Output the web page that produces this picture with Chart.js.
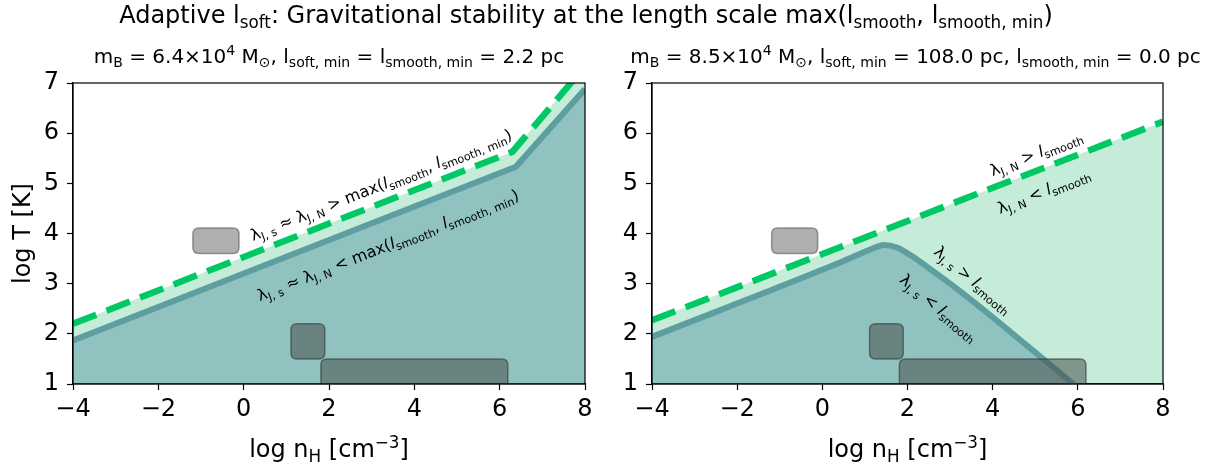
<!DOCTYPE html>
<html>
<head>
<meta charset="utf-8">
<script src="https://cdn.jsdelivr.net/npm/chart.js@4.4.1/dist/chart.umd.min.js"></script>
<style>
  body { margin: 0; background: #fff; }
  #wrap { position: relative; width: 1211px; height: 469px; }
  canvas { position: absolute; top: 0; }
</style>
</head>
<body>
<div id="wrap">
  <canvas id="left" width="605" height="469" style="left:0"></canvas>
  <canvas id="right" width="605" height="469" style="left:606px"></canvas>
  <canvas id="head" width="1211" height="40" style="left:0"></canvas>
</div>
<script>
// --- data (log n_H, log T) ---
const xTicks = [-4, -2, 0, 2, 4, 6, 8];
const yTicks = [1, 2, 3, 4, 5, 6, 7];

// left panel: l_soft,min = l_smooth,min = 2.2 pc
const leftDashX = [-4, 6.3, 8];
const leftDashY = [2.2, 5.63, 7.33];
const leftTealX = [-4, 6.38, 8];
const leftTealY = [1.87, 5.33, 6.88];

// right panel: l_soft,min = 108 pc
const rightDashX = [-4, 8];
const rightDashY = [2.27, 6.23];
const rightTealX = [-4, 0.5, 1.1, 1.45, 1.75, 2.1, 2.6, 3.2, 4.0, 4.8, 5.5, 6.0];
const rightTealY = [1.94, 3.45, 3.67, 3.77, 3.72, 3.55, 3.25, 2.87, 2.33, 1.77, 1.28, 0.92];

// grey boxes (same in both panels)
const boxKind = ['light', 'dark', 'dark'];
const boxX0 = [-1.19, 1.11, 1.81];
const boxX1 = [-0.11, 1.9, 6.19];
const boxY0 = [3.6, 1.5, 0.8];
const boxY1 = [4.11, 2.2, 1.5];

const FONT = '"DejaVu Sans"';

// rich text: segments [text, kind] kind: '' normal, 'b' subscript, 'p' superscript, 'i' italic
function layoutRich(ctx, segs, size) {
    let x = 0;
    const out = [];
    for (const [t, k] of segs) {
        let s = size, dy = 0;
        if (k.includes('b')) { s = size * 0.7; dy = size * 0.2; }
        if (k.includes('p')) { s = size * 0.7; dy = -size * 0.38; }
        const f = (k.includes('i') ? 'italic ' : '') + s.toFixed(1) + 'px ' + FONT;
        ctx.font = f;
        out.push({ t, f, x, dy });
        x += ctx.measureText(t).width;
    }
    return { out, w: x };
}

function drawRich(ctx, segs, cx, cy, size, rot, vOff) {
    ctx.save();
    ctx.translate(cx, cy);
    if (rot) ctx.rotate(rot * Math.PI / 180);
    const L = layoutRich(ctx, segs, size);
    ctx.textAlign = 'left';
    ctx.textBaseline = 'alphabetic';
    ctx.fillStyle = '#000';
    for (const o of L.out) {
        ctx.font = o.f;
        ctx.fillText(o.t, o.x - L.w / 2, o.dy + (vOff || 0));
    }
    ctx.restore();
}

function roundBox(ctx, x0, y0, x1, y1, r) {
    ctx.beginPath();
    ctx.moveTo(x0 + r, y0);
    ctx.lineTo(x1 - r, y0);
    ctx.quadraticCurveTo(x1, y0, x1, y0 + r);
    ctx.lineTo(x1, y1 - r);
    ctx.quadraticCurveTo(x1, y1, x1 - r, y1);
    ctx.lineTo(x0 + r, y1);
    ctx.quadraticCurveTo(x0, y1, x0, y1 - r);
    ctx.lineTo(x0, y0 + r);
    ctx.quadraticCurveTo(x0, y0, x0 + r, y0);
    ctx.closePath();
}

const pts = (xs, ys) => xs.map((x, i) => ({ x: x, y: ys[i] }));
const minus = v => String(v).replace('-', '\u2212');

function makeChart(id, cfg) {
    const decor = {
        id: 'decor' + id,
        afterDatasetsDraw(chart) {
            const ctx = chart.ctx, a = chart.chartArea;
            const sx = chart.scales.x, sy = chart.scales.y;
            ctx.save();
            ctx.beginPath();
            ctx.rect(a.left, a.top, a.right - a.left, a.bottom - a.top);
            ctx.clip();
            // boxes
            boxKind.forEach((k, i) => {
                const x0 = sx.getPixelForValue(boxX0[i]), x1 = sx.getPixelForValue(boxX1[i]);
                const y0 = sy.getPixelForValue(boxY1[i]), y1 = sy.getPixelForValue(boxY0[i]);
                roundBox(ctx, x0, y0, x1, y1, 6);
                ctx.fillStyle = k === 'light' ? 'rgba(110,110,110,0.55)' : 'rgba(72,78,78,0.55)';
                ctx.fill();
                ctx.lineWidth = 1.5;
                ctx.strokeStyle = k === 'light' ? 'rgba(90,90,90,0.6)' : 'rgba(50,55,55,0.6)';
                ctx.stroke();
            });
            // annotations
            cfg.annots.forEach(an => {
                drawRich(ctx, an.segs, sx.getPixelForValue(an.x), sy.getPixelForValue(an.y), 16, an.rot, 5.5);
            });
            ctx.restore();
        },
        afterDraw(chart) {
            const ctx = chart.ctx, a = chart.chartArea;
            ctx.save();
            ctx.strokeStyle = '#000';
            ctx.lineWidth = 1.2;
            ctx.strokeRect(a.left, a.top, a.right - a.left, a.bottom - a.top);
            ctx.restore();
            const mid = (a.left + a.right) / 2;
            drawRich(ctx, cfg.title, mid + cfg.titleShift, 63, 20, 0, 0);
            drawRich(ctx, [['log n', ''], ['H', 'b'], [' [cm', ''], ['\u22123', 'p'], [']', '']], mid, 457, 24, 0, 0);
            if (cfg.yLabel) {
                drawRich(ctx, [[cfg.yLabel, '']], 21, (a.top + a.bottom) / 2, 24, -90, 8.5);
            }
        }
    };

    const tickFont = { family: 'DejaVu Sans', size: 24 };
    return new Chart(document.getElementById(id), {
        type: 'line',
        data: {
            datasets: [
                {
                    data: pts(cfg.dashX, cfg.dashY),
                    borderColor: '#00c864', borderWidth: 6.5, borderDash: [25, 11],
                    fill: false, pointRadius: 0, clip: 0, order: 0
                },
                {
                    data: pts(cfg.tealX, cfg.tealY),
                    borderColor: '#5f9ea0', borderWidth: 6,
                    fill: 'start', backgroundColor: 'rgba(95,158,166,0.52)',
                    cubicInterpolationMode: cfg.smooth ? 'monotone' : 'default',
                    pointRadius: 0, clip: 0, order: 1
                },
                {
                    data: pts(cfg.dashX, cfg.dashY),
                    borderColor: 'rgba(0,0,0,0)', borderWidth: 0,
                    fill: 'start', backgroundColor: 'rgba(20,180,100,0.25)',
                    pointRadius: 0, clip: 0, order: 2
                }
            ]
        },
        options: {
            responsive: false,
            animation: false,
            devicePixelRatio: 1,
            layout: { padding: { left: 0, top: 83, right: cfg.padRight, bottom: 0 } },
            plugins: { legend: { display: false }, tooltip: { enabled: false } },
            scales: {
                x: {
                    type: 'linear', min: xTicks[0], max: xTicks[xTicks.length - 1],
                    ticks: { stepSize: 2, autoSkip: false, font: tickFont, color: '#000', padding: 5, callback: minus },
                    grid: { drawOnChartArea: false, tickLength: 6, tickColor: '#000', tickWidth: 1.2 },
                    border: { color: '#000', width: 1.2 },
                    afterFit: s => { s.height = 85; }
                },
                y: {
                    type: 'linear', min: yTicks[0], max: yTicks[yTicks.length - 1],
                    ticks: { stepSize: 1, autoSkip: false, font: tickFont, color: '#000', padding: 8, callback: minus },
                    grid: { drawOnChartArea: false, tickLength: 6, tickColor: '#000', tickWidth: 1.2 },
                    border: { color: '#000', width: 1.2 },
                    afterFit: s => { s.width = cfg.yW; }
                }
            }
        },
        plugins: [decor]
    });
}

const lamS = [['\u03bb', ''], ['J, s', 'b']];
const lamN = [['\u03bb', ''], ['J, N', 'b']];
const lsm = [['l', 'i'], ['smooth', 'b']];
const maxL = [[' max(', ''], ['l', 'i'], ['smooth', 'b'], [', ', ''], ['l', 'i'], ['smooth, min', 'b'], [')', '']];

makeChart('left', {
    dashX: leftDashX, dashY: leftDashY, tealX: leftTealX, tealY: leftTealY,
    yW: 73, padRight: 20, yLabel: 'log T [K]', titleShift: 0,
    title: [['m', ''], ['B', 'b'], [' = 6.4\u00d710', ''], ['4', 'p'], [' M', ''], ['\u2299', 'b'], [', l', ''], ['soft, min', 'b'], [' = l', ''], ['smooth, min', 'b'], [' = 2.2 pc', '']],
    annots: [
        { x: 3.22, y: 4.97, rot: -21.4, segs: [...lamS, [' \u2248 ', ''], ...lamN, [' >', ''], ...maxL] },
        { x: 3.38, y: 3.77, rot: -21.4, segs: [...lamS, [' \u2248 ', ''], ...lamN, [' <', ''], ...maxL] }
    ]
});

makeChart('right', {
    dashX: rightDashX, dashY: rightDashY, tealX: rightTealX, tealY: rightTealY, smooth: true,
    yW: 46, padRight: 48, yLabel: null, titleShift: 8,
    title: [['m', ''], ['B', 'b'], [' = 8.5\u00d710', ''], ['4', 'p'], [' M', ''], ['\u2299', 'b'], [', l', ''], ['soft, min', 'b'], [' = 108.0 pc, l', ''], ['smooth, min', 'b'], [' = 0.0 pc', '']],
    annots: [
        { x: 5.02, y: 5.6, rot: -21.4, segs: [...lamN, [' > ', ''], ...lsm] },
        { x: 5.2, y: 4.85, rot: -21.4, segs: [...lamN, [' < ', ''], ...lsm] },
        { x: 3.54, y: 3.08, rot: 40, segs: [...lamS, [' > ', ''], ...lsm] },
        { x: 2.74, y: 2.52, rot: 40, segs: [...lamS, [' < ', ''], ...lsm] }
    ]
});

// figure title
const hctx = document.getElementById('head').getContext('2d');
drawRich(hctx, [['Adaptive l', ''], ['soft', 'b'], [': Gravitational stability at the length scale max(l', ''], ['smooth', 'b'], [', l', ''], ['smooth, min', 'b'], [')', '']], 586, 23, 24, 0, 0);
</script>
</body>
</html>
